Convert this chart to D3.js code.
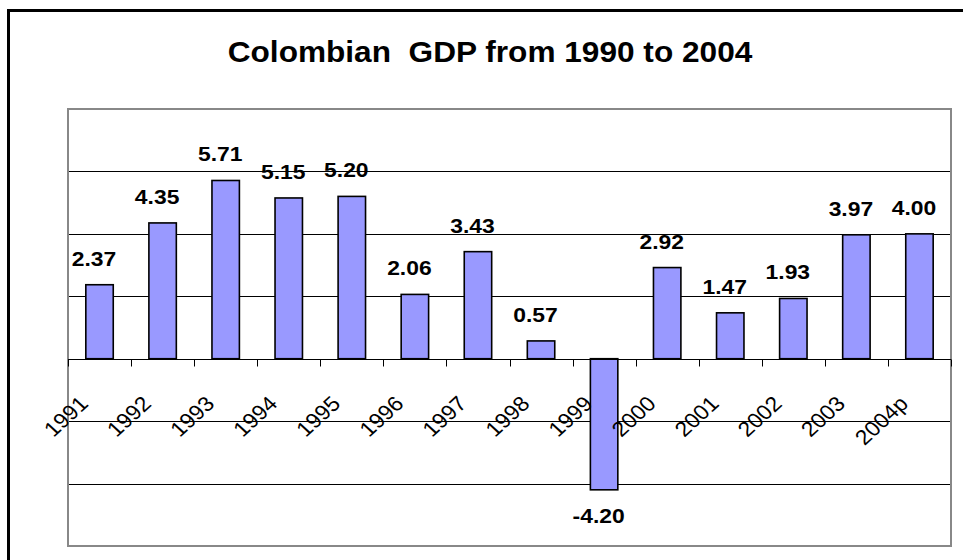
<!DOCTYPE html>
<html>
<head>
<meta charset="utf-8">
<script src="https://cdn.jsdelivr.net/npm/d3@7/dist/d3.min.js"></script>
<style>
  html, body { margin: 0; padding: 0; background: #fff; }
  svg { display: block; font-family: Arial, "Liberation Sans", sans-serif; }
  .title { white-space: pre; }
</style>
</head>
<body>
<svg id="chart" width="963" height="560"></svg>
<script>
// Annual GDP growth, Colombia (%)
const years = ["1991", "1992", "1993", "1994", "1995", "1996", "1997",
               "1998", "1999", "2000", "2001", "2002", "2003", "2004p"];
const growth = [2.37, 4.35, 5.71, 5.15, 5.20, 2.06, 3.43,
                0.57, -4.20, 2.92, 1.47, 1.93, 3.97, 4.00];
const gridValues = [-6, -4, -2, 0, 2, 4, 6, 8];
const titleText = "Colombian  GDP from 1990 to 2004";

const svg = d3.select("#chart");
const W = 963, H = 560;
const plot = { left: 68, right: 951, top: 109, bottom: 546 };
const stretch = 1.09; // text is drawn slightly wide

svg.append("rect").attr("width", W).attr("height", H).attr("fill", "#fff");

// outer chart frame (runs off the right and bottom edges)
svg.append("rect")
  .attr("x", 8.5).attr("y", 10.5)
  .attr("width", 1000).attr("height", 600)
  .attr("fill", "none").attr("stroke", "#000").attr("stroke-width", 3);

const x = d3.scaleBand()
  .domain(years)
  .range([plot.left, plot.right])
  .paddingInner(0.565)
  .paddingOuter(0.2825);

const y = d3.scaleLinear()
  .domain([d3.min(gridValues), d3.max(gridValues)])
  .range([plot.bottom, plot.top]);

// title
svg.append("text")
  .attr("class", "title")
  .attr("xml:space", "preserve")
  .attr("transform", `translate(490,61.5) scale(${stretch},1)`)
  .attr("text-anchor", "middle")
  .attr("font-size", 29)
  .attr("font-weight", "bold")
  .text(titleText);

// horizontal gridlines
svg.append("g")
  .selectAll("line")
  .data(gridValues.filter(v => v !== 0 && v !== d3.min(gridValues) && v !== d3.max(gridValues)))
  .join("line")
  .attr("x1", plot.left).attr("x2", plot.right)
  .attr("y1", d => Math.round(y(d)) + 0.5).attr("y2", d => Math.round(y(d)) + 0.5)
  .attr("stroke", "#000").attr("stroke-width", 1);

// plot area border
svg.append("rect")
  .attr("x", plot.left).attr("y", plot.top)
  .attr("width", plot.right - plot.left).attr("height", plot.bottom - plot.top)
  .attr("fill", "none").attr("stroke", "#888").attr("stroke-width", 2);

// bars
svg.append("g")
  .selectAll("rect")
  .data(years.map((yr, i) => ({ yr, v: growth[i] })))
  .join("rect")
  .attr("x", d => x(d.yr))
  .attr("width", x.bandwidth())
  .attr("y", d => y(Math.max(0, d.v)))
  .attr("height", d => Math.abs(y(d.v) - y(0)))
  .attr("fill", "#9999ff")
  .attr("stroke", "#000")
  .attr("stroke-width", 1.6);

// category axis at zero, ticks between categories
const zeroY = Math.round(y(0)) + 0.5;
svg.append("line")
  .attr("x1", plot.left).attr("x2", plot.right)
  .attr("y1", zeroY).attr("y2", zeroY)
  .attr("stroke", "#000").attr("stroke-width", 1.2);

const step = x.step();
const tickXs = d3.range(years.length + 1).map(i => plot.left + i * step);
svg.append("g")
  .selectAll("line")
  .data(tickXs)
  .join("line")
  .attr("x1", d => Math.round(d) + 0.5).attr("x2", d => Math.round(d) + 0.5)
  .attr("y1", zeroY).attr("y2", zeroY + 7)
  .attr("stroke", "#000").attr("stroke-width", 1);

// rotated category labels
svg.append("g")
  .selectAll("text")
  .data(years)
  .join("text")
  .attr("transform", d => `translate(${x(d) + x.bandwidth() / 2 - 10},405) scale(${stretch},1) rotate(-45)`)
  .attr("text-anchor", "end")
  .attr("font-size", 21)
  .text(d => d);

// value labels
svg.append("g")
  .selectAll("text")
  .data(years.map((yr, i) => ({ yr, v: growth[i] })))
  .join("text")
  .attr("transform", d => {
    const cx = x(d.yr) + x.bandwidth() / 2 - 5.5;
    const ty = d.v >= 0 ? y(d.v) - 19 : y(d.v) + 33;
    return `translate(${cx},${ty}) scale(${stretch},1)`;
  })
  .attr("text-anchor", "middle")
  .attr("font-size", 21)
  .attr("font-weight", "bold")
  .text(d => d.v.toFixed(2));
</script>
</body>
</html>
